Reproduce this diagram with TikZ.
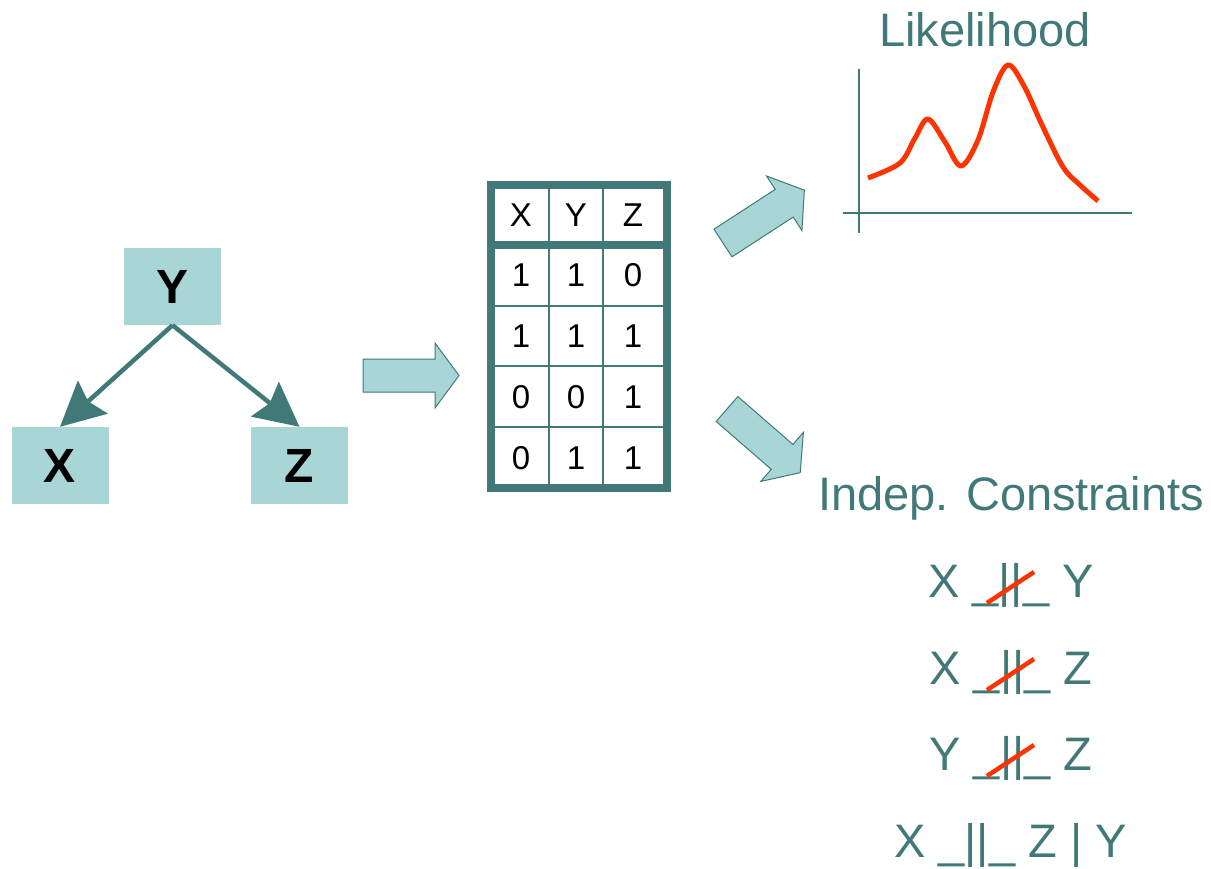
\documentclass[tikz,border=0pt]{standalone}
\usepackage{fontspec}
\setmainfont{Liberation Sans}
\usetikzlibrary{arrows.meta,calc}
\definecolor{tealdark}{HTML}{417878}
\definecolor{tealfill}{HTML}{A8D5D6}
\definecolor{curvered}{HTML}{FF3300}

\begin{document}
\begin{tikzpicture}[x=1pt,y=-1pt,
  varbox/.style={fill=tealfill, minimum width=97pt, minimum height=77pt, inner sep=0pt,
    font=\fontsize{48}{56}\selectfont\bfseries},
  edge/.style={draw=tealdark, line width=4.5pt,
    -{Stealth[length=44pt,width=44pt,inset=6pt]}},
  cell/.style={anchor=base, inner sep=0pt, font=\fontsize{33}{40}\selectfont},
  bigtext/.style={text=tealdark, inner sep=0pt, anchor=base, font=\fontsize{47}{56}\selectfont},
  blockarrow/.style={fill=tealfill, draw=tealdark, line width=1pt, line join=miter},
  slash/.style={draw=curvered, line width=4.5pt},
  axis/.style={draw=tealdark, line width=2pt},
]
\useasboundingbox (0,0) rectangle (1211,869);

% --- Bayesian network Y -> X, Y -> Z
\node[varbox] (Y) at (172.5,286.5) {Y};
\node[varbox] (X) at (60,465.5) {X};
\node[varbox] (Z) at (299.5,465.5) {Z};
\draw[edge] (Y.south) -- (X.north);
\draw[edge] (Y.south) -- (Z.north);

% --- block arrows (tail midpoint, then direction)
\coordinate (a1) at (363,375.5);
\coordinate (a2) at (723,243);
\coordinate (a3) at (727,409);
\foreach \tail/\ang/\len in {a1/0/96, a2/33/97, a3/-41/97}{
  \begin{scope}[shift={(\tail)}, rotate=\ang]
    \filldraw[blockarrow] (0,-16.5) -- (\len-24,-16.5) -- (\len-24,-32.5) -- (\len,0)
      -- (\len-24,32.5) -- (\len-24,16.5) -- (0,16.5) -- cycle;
  \end{scope}
}

% --- data table
\draw[tealdark, line width=2pt] (549,189) -- (549,484) (603,189) -- (603,484)
  (495,306) -- (663,306) (495,366) -- (663,366) (495,427) -- (663,427);
\draw[tealdark, line width=8pt] (495,245) -- (663,245);
\draw[tealdark, line width=7.5pt] (491,185) rectangle (667,488);

\node[cell] (h1) at (521,227) {X};
\node[cell] (h2) at (576,227) {Y};
\node[cell] (h3) at (633,227) {Z};
\node[cell] (r11) at (521,287) {1};
\node[cell] (r12) at (576,287) {1};
\node[cell] (r13) at (633,287) {0};
\node[cell] (r21) at (521,347) {1};
\node[cell] (r22) at (576,347) {1};
\node[cell] (r23) at (633,347) {1};
\node[cell] (r31) at (521,408) {0};
\node[cell] (r32) at (576,408) {0};
\node[cell] (r33) at (633,408) {1};
\node[cell] (r41) at (521,469) {0};
\node[cell] (r42) at (576,469) {1};
\node[cell] (r43) at (633,469) {1};

% --- likelihood plot
\node[bigtext] (lik) at (985,47) {Likelihood};
\draw[axis] (859,69) -- (859,233);
\draw[axis] (843,213) -- (1132,213);
\draw[curvered, line width=5pt, line join=round]
  plot[smooth, tension=0.55] coordinates {(868,178) (900,163) (915,138) (928,119)
    (945,142) (961,166) (978,140) (993,92) (1008,65) (1024,86) (1042,125)
    (1063,167) (1080,185) (1098,201)};

% --- independence constraints
\node[bigtext] (ind) at (1011,510) {Indep. Constraints};
\node[bigtext] (c1) at (1011,597) {X \_||\_ Y};
\node[bigtext] (c2) at (1011,684) {X \_||\_ Z};
\node[bigtext] (c3) at (1011,770) {Y \_||\_ Z};
\node[bigtext] (c4) at (1010.5,857) {X \_||\_ Z | Y};
\foreach \c in {c1,c2,c3}
  \draw[slash] ($(\c.base)+(-24,6)$) -- ($(\c.base)+(23,-25)$);
\end{tikzpicture}
\end{document}
